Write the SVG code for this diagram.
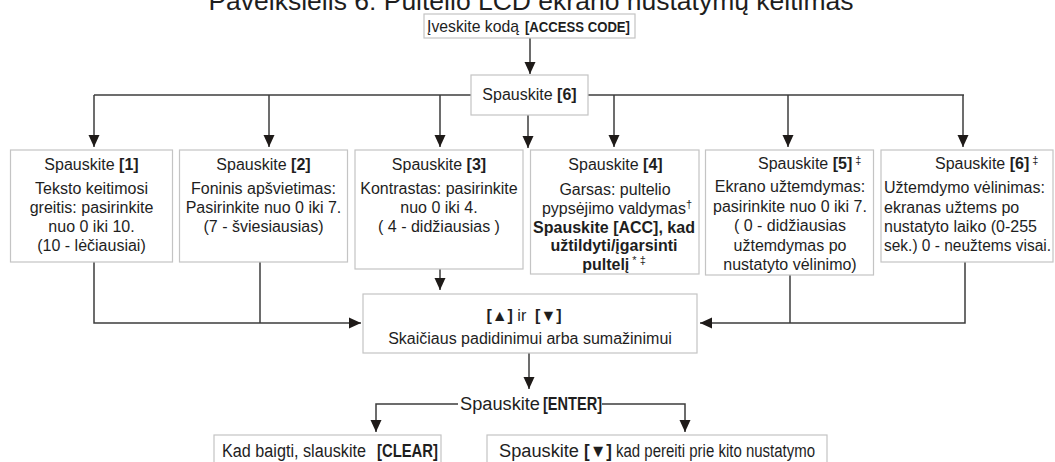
<svg xmlns="http://www.w3.org/2000/svg" width="1055" height="462" viewBox="0 0 1055 462">
<style>
  text { font-family: "Liberation Sans", Arial, sans-serif; fill: #1e1e1e; }
  .t { font-size: 16px; }
  .c { text-anchor: middle; }
  .b { font-weight: bold; }
  .pre { white-space: pre; }
  .box { fill: #ffffff; stroke: #c4c4c4; stroke-width: 1.2; }
  .ln { fill: none; stroke: #3c3c3c; stroke-width: 1.5; }
  .sup { font-size: 11px; }
  .nar { font-size: 18px; }
</style>
<defs>
  <marker id="arr" viewBox="0 0 12 12" markerWidth="12" markerHeight="12" refX="12" refY="6" orient="auto" markerUnits="userSpaceOnUse">
    <path d="M0,0.5 L12,6 L0,11.5 z" fill="#1e1a18"/>
  </marker>
</defs>
<rect width="1055" height="462" fill="#ffffff"/>

<g id="title">
  <text x="531" y="10" class="c" style="font-size:26.5px">Paveikslėlis 6: Pultelio LCD ekrano nustatymų keitimas</text>
</g>

<g id="connectors">
  <line class="ln" x1="530" y1="38" x2="530" y2="74" marker-end="url(#arr)"/>
  <line class="ln" x1="94" y1="95" x2="964" y2="95"/>
  <line class="ln" x1="94" y1="95" x2="94" y2="147" marker-end="url(#arr)"/>
  <line class="ln" x1="269" y1="95" x2="269" y2="147" marker-end="url(#arr)"/>
  <line class="ln" x1="440" y1="95" x2="440" y2="147" marker-end="url(#arr)"/>
  <line class="ln" x1="528" y1="115" x2="528" y2="148" marker-end="url(#arr)"/>
  <line class="ln" x1="614" y1="95" x2="614" y2="147" marker-end="url(#arr)"/>
  <line class="ln" x1="788" y1="95" x2="788" y2="147" marker-end="url(#arr)"/>
  <line class="ln" x1="963" y1="95" x2="963" y2="147" marker-end="url(#arr)"/>
  <polyline class="ln" points="94,262 94,323 361,323" marker-end="url(#arr)"/>
  <line class="ln" x1="260" y1="262" x2="260" y2="323"/>
  <line class="ln" x1="440" y1="269" x2="440" y2="290" marker-end="url(#arr)"/>
  <polyline class="ln" points="965,262 965,323 700,323" marker-end="url(#arr)"/>
  <line class="ln" x1="790" y1="275" x2="790" y2="323"/>
  <line class="ln" x1="529" y1="353" x2="529" y2="389" marker-end="url(#arr)"/>
  <polyline class="ln" points="458,404 376,404 376,432" marker-end="url(#arr)"/>
  <polyline class="ln" points="602,404 685,404 685,432" marker-end="url(#arr)"/>
</g>

<g id="n_access">
  <rect class="box" x="424" y="14" width="211" height="24"/>
  <text x="427" y="32" style="font-size:17px" textLength="92" lengthAdjust="spacingAndGlyphs">Įveskite kodą</text>
  <text x="525" y="32" class="b" style="font-size:14px" textLength="105" lengthAdjust="spacingAndGlyphs">[ACCESS CODE]</text>
</g>

<g id="n_press6">
  <rect class="box" x="471" y="75" width="117" height="40"/>
  <text x="529.5" y="100" class="t c">Spauskite <tspan class="b">[6]</tspan></text>
</g>

<g id="n_b1">
  <rect class="box" x="10.5" y="150" width="162" height="112"/>
  <text x="91.5" y="170" class="t c">Spauskite <tspan class="b">[1]</tspan></text>
  <text x="91.5" y="194" class="t c">Teksto keitimosi</text>
  <text x="91.5" y="213" class="t c">greitis: pasirinkite</text>
  <text x="91.5" y="232" class="t c">nuo 0 iki 10.</text>
  <text x="91.5" y="251" class="t c">(10 - lėčiausiai)</text>
</g>

<g id="n_b2">
  <rect class="box" x="179.5" y="150" width="168" height="112"/>
  <text x="263.5" y="170" class="t c">Spauskite <tspan class="b">[2]</tspan></text>
  <text x="263.5" y="194" class="t c">Foninis apšvietimas:</text>
  <text x="263.5" y="213" class="t c">Pasirinkite nuo 0 iki 7.</text>
  <text x="263.5" y="232" class="t c">(7 - šviesiausias)</text>
</g>

<g id="n_b3">
  <rect class="box" x="355" y="150" width="168" height="119"/>
  <text x="439" y="170" class="t c">Spauskite <tspan class="b">[3]</tspan></text>
  <text x="439" y="194" class="t c">Kontrastas: pasirinkite</text>
  <text x="439" y="213" class="t c">nuo 0 iki 4.</text>
  <text x="439" y="232" class="t c">( 4 - didžiausias )</text>
</g>

<g id="n_b4">
  <rect class="box" x="530.5" y="150" width="168.5" height="124"/>
  <text x="615.5" y="170" class="t c">Spauskite <tspan class="b">[4]</tspan></text>
  <text x="615" y="195" class="t c">Garsas: pultelio</text>
  <text x="617" y="214" class="t c">pypsėjimo valdymas<tspan class="sup" dy="-6">†</tspan></text>
  <text x="614" y="233" class="t c b">Spauskite [ACC], kad</text>
  <text x="614" y="251" class="t c b">užtildyti/įgarsinti</text>
  <text x="614" y="270" class="t c"><tspan class="b">pultelį</tspan><tspan class="sup" dy="-6"> * ‡</tspan></text>
</g>

<g id="n_b5">
  <rect class="box" x="705.5" y="150" width="168" height="125"/>
  <text x="758" y="169" class="t">Spauskite <tspan class="b">[5]</tspan><tspan class="sup" dy="-5"> ‡</tspan></text>
  <text x="790" y="192" class="t c">Ekrano užtemdymas:</text>
  <text x="790" y="212" class="t c">pasirinkite nuo 0 iki 7.</text>
  <text x="790" y="231" class="t c">( 0 - didžiausias</text>
  <text x="790" y="251" class="t c">užtemdymas po</text>
  <text x="790" y="270" class="t c">nustatyto vėlinimo)</text>
</g>

<g id="n_b6">
  <rect class="box" x="881" y="150" width="172" height="112"/>
  <text x="935" y="169" class="t">Spauskite <tspan class="b">[6]</tspan><tspan class="sup" dy="-5"> ‡</tspan></text>
  <text x="884" y="193" class="t">Užtemdymo vėlinimas:</text>
  <text x="884" y="213" class="t">ekranas užtems po</text>
  <text x="884" y="232" class="t">nustatyto laiko (0-255</text>
  <text x="884" y="251" class="t" textLength="167" lengthAdjust="spacingAndGlyphs">sek.) 0 - neužtems visai.</text>
</g>

<g id="n_updown">
  <rect class="box" x="363" y="294" width="334" height="59"/>
  <text x="524" y="321" class="t c pre"><tspan class="b">[▲]</tspan> ir  <tspan class="b">[▼]</tspan></text>
  <text x="530" y="344" class="t c">Skaičiaus padidinimui arba sumažinimui</text>
</g>

<g id="n_enter">
  <text x="460" y="410" class="nar" textLength="80" lengthAdjust="spacingAndGlyphs">Spauskite</text>
  <text x="543" y="410" class="nar b" textLength="59" lengthAdjust="spacingAndGlyphs">[ENTER]</text>
</g>

<g id="n_clear">
  <rect class="box" x="214" y="435" width="227" height="40"/>
  <text x="222" y="457" class="nar" textLength="144" lengthAdjust="spacingAndGlyphs">Kad baigti, slauskite</text>
  <text x="377" y="457" class="nar b" textLength="61" lengthAdjust="spacingAndGlyphs">[CLEAR]</text>
</g>

<g id="n_next">
  <rect class="box" x="487" y="435" width="340" height="40"/>
  <text x="499" y="457" class="nar" textLength="80" lengthAdjust="spacingAndGlyphs">Spauskite</text>
  <text x="584" y="457" class="nar b" textLength="28" lengthAdjust="spacingAndGlyphs">[▼]</text>
  <text x="616" y="457" class="nar" textLength="199" lengthAdjust="spacingAndGlyphs">kad pereiti prie kito nustatymo</text>
</g>
</svg>
